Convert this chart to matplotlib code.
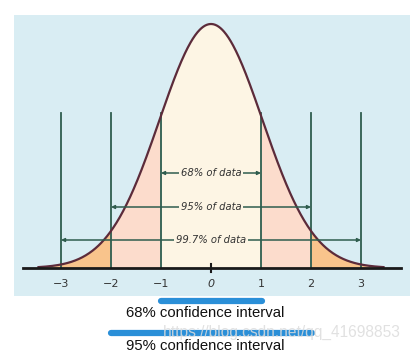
import numpy as np
import matplotlib.pyplot as plt
from matplotlib.patches import FancyArrowPatch

# data
sigmas = [-3, -2, -1, 0, 1, 2, 3]
tick_labels = ["\u22123", "\u22122", "\u22121", "0", "1", "2", "3"]
ranges = [1, 2, 3]
range_labels = ["68% of data", "95% of data", "99.7% of data"]
ci_labels = ["68% confidence interval", "95% confidence interval"]
ci_ranges = [1, 2]
curve_width = 1.03  # drawn bell is slightly wider than unit normal

W, H = 416, 355
fig = plt.figure(figsize=(W / 100, H / 100), dpi=100)
fig.patch.set_facecolor("white")

# panel in pixels
L, R, T, B = 14, 410, 15, 296
ax = fig.add_axes([L / W, 1 - B / H, (R - L) / W, (B - T) / H])
ax.set_facecolor("#d9edf3")
for s in ax.spines.values():
    s.set_visible(False)
ax.set_xticks([]); ax.set_yticks([])

px_per_sigma = 50.0
x0 = 211
peak_px = 244.0
peak = 1 / np.sqrt(2 * np.pi)
ypp = peak / peak_px  # density units per pixel
ax.set_xlim((L - x0) / px_per_sigma, (R - x0) / px_per_sigma)
ax.set_ylim(-(B - 268) * ypp, (268 - T) * ypp)

x = np.linspace(-3.45, 3.45, 600)
y = peak * np.exp(-x**2 / (2 * curve_width**2))

cream = "#fdf5e4"
pink = "#fcdccc"
orange = "#f9c48c"
ax.fill_between(x, 0, y, where=np.abs(x) <= 1, color=cream, lw=0, zorder=1)
ax.fill_between(x, 0, y, where=(np.abs(x) >= 1) & (np.abs(x) <= 2), color=pink, lw=0, zorder=1)
ax.fill_between(x, 0, y, where=np.abs(x) >= 2, color=orange, lw=0, zorder=1)
ax.plot(x, y, color="#5c2b3a", lw=1.6, zorder=4)

green = "#2f5d4e"
vtop = 155 * ypp
for s in sigmas:
    if s != 0:
        ax.plot([s, s], [0, vtop], color=green, lw=1.3, zorder=3)

# baseline
ax.plot([(23 - x0) / px_per_sigma, (401 - x0) / px_per_sigma], [0, 0], color="#1a1a1a", lw=2, zorder=5)
ax.plot([0, 0], [-4 * ypp, 4 * ypp], color="#1a1a1a", lw=1.5, zorder=5)

for s, lab in zip(sigmas, tick_labels):
    ax.text(s, -16 * ypp, lab, ha="center", va="center", fontsize=8,
            color="#333333", style="italic" if s == 0 else "normal")

arrow_px = [95, 61, 28]
for r, lab, apx in zip(ranges, range_labels, arrow_px):
    yy = apx * ypp
    ar = FancyArrowPatch((-r, yy), (r, yy), arrowstyle="<|-|>", mutation_scale=5,
                         color=green, lw=1.1, zorder=6, shrinkA=0, shrinkB=0)
    ax.add_patch(ar)
    ax.text(0, yy, lab, ha="center", va="center", fontsize=7.2, style="italic",
            color="#333333", zorder=7,
            bbox=dict(boxstyle="square,pad=0.15", fc=cream, ec="none"))

# confidence interval bars and labels
bar_px = [301, 333]
text_px = [313, 346]
for r, lab, bp, tp in zip(ci_ranges, ci_labels, bar_px, text_px):
    ax.plot([-r - 0.01, r + 0.02], [-(bp - 268) * ypp] * 2, color="#2a8fd8", lw=4.5,
            solid_capstyle="round", clip_on=False, zorder=8)
    ax.text(-0.11, -(tp - 268) * ypp, lab, ha="center", va="center", fontsize=10.7,
            family="Liberation Sans", color="#111111", clip_on=False, zorder=9)

ax.text((163 - x0) / px_per_sigma, -(332 - 268) * ypp, "https://blog.csdn.net/qq_41698853",
        ha="left", va="center", fontsize=11.2, family="Liberation Sans",
        color="#dcdcdc", alpha=0.85, clip_on=False, zorder=10)

fig.savefig("out.png", dpi=100)
